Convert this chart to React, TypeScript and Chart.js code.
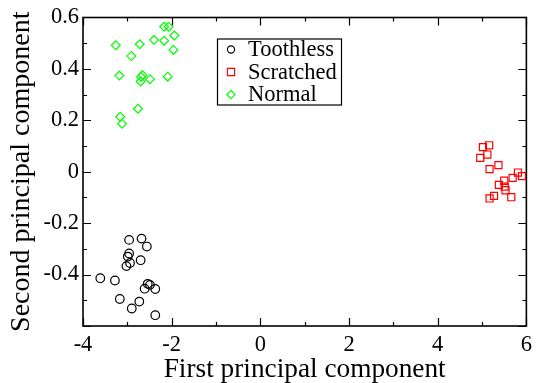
import { useEffect, useRef } from 'react';
import { Chart, registerables } from 'chart.js';

Chart.register(...registerables);

// PCA scores for the three tool conditions
const toothlessX = [-2.96, -2.68, -2.56, -2.96, -2.99, -2.70, -2.94, -3.02, -3.61, -3.28, -2.54, -2.49, -2.61, -2.37, -3.17, -2.73, -2.90, -2.37];
const toothlessY = [-0.265, -0.26, -0.291, -0.318, -0.33, -0.344, -0.355, -0.367, -0.414, -0.423, -0.436, -0.44, -0.455, -0.456, -0.495, -0.505, -0.532, -0.558];

const scratchedX = [5.02, 5.16, 5.12, 4.96, 5.17, 5.37, 5.81, 5.90, 5.69, 5.38, 5.51, 5.53, 5.66, 5.27, 5.17, 5.50];
const scratchedY = [0.096, 0.103, 0.067, 0.054, 0.010, 0.026, -0.003, -0.017, -0.024, -0.051, -0.058, -0.072, -0.099, -0.094, -0.104, -0.035];

const normalX = [-3.26, -2.72, -2.91, -2.40, -2.17, -2.17, -2.07, -1.94, -1.96, -3.18, -2.66, -2.69, -2.70, -2.49, -2.09, -2.76, -3.16, -3.12];
const normalY = [0.492, 0.496, 0.45, 0.513, 0.51, 0.564, 0.564, 0.53, 0.474, 0.374, 0.376, 0.369, 0.351, 0.36, 0.37, 0.245, 0.214, 0.187];

const seriesNames = ['Toothless', 'Scratched', 'Normal'];

const X_MIN = -4;
const X_MAX = 6;
const Y_MIN = -0.6;
const Y_MAX = 0.6;

const SERIF = '"Liberation Serif", "Times New Roman", serif';

const zip = (xs: number[], ys: number[]) => xs.map((x, i) => ({ x, y: ys[i] }));

// Frame with inward major/minor ticks on all four sides
const framePlugin = {
  id: 'frameTicks',
  beforeDatasetsDraw(chart: any) {
    const { ctx, chartArea, scales } = chart;
    const { left, right, top, bottom } = chartArea;
    const xs = scales.x;
    const ys = scales.y;
    ctx.save();
    ctx.strokeStyle = '#000';
    ctx.lineWidth = 1.6;
    ctx.strokeRect(left, top, right - left, bottom - top);
    ctx.lineWidth = 1.2;
    ctx.beginPath();
    for (let i = 0; i <= (X_MAX - X_MIN); i++) {
      const v = X_MIN + i;
      const px = Math.round(xs.getPixelForValue(v)) + 0.5;
      const len = i % 2 === 0 ? 8 : 4;
      ctx.moveTo(px, bottom);
      ctx.lineTo(px, bottom - len);
      ctx.moveTo(px, top);
      ctx.lineTo(px, top + len);
    }
    for (let i = 0; i <= 12; i++) {
      const v = Y_MIN + i * 0.1;
      const py = Math.round(ys.getPixelForValue(v)) + 0.5;
      const len = i % 2 === 0 ? 8 : 4;
      ctx.moveTo(left, py);
      ctx.lineTo(left + len, py);
      ctx.moveTo(right, py);
      ctx.lineTo(right - len, py);
    }
    ctx.stroke();
    ctx.restore();
  },
};

function drawMarker(ctx: CanvasRenderingContext2D, style: string, x: number, y: number) {
  ctx.beginPath();
  if (style === 'circle') {
    ctx.arc(x, y, 3.6, 0, Math.PI * 2);
  } else if (style === 'rect') {
    ctx.rect(x - 3.6, y - 3.6, 7.2, 7.2);
  } else {
    ctx.moveTo(x - 4.2, y);
    ctx.lineTo(x, y - 4.2);
    ctx.lineTo(x + 4.2, y);
    ctx.lineTo(x, y + 4.2);
    ctx.closePath();
  }
  ctx.stroke();
}

// Boxed legend inside the plot area
const legendBoxPlugin = {
  id: 'legendBox',
  afterDatasetsDraw(chart: any) {
    const { ctx, chartArea } = chart;
    const bx = chartArea.left + 134;
    const by = chartArea.top + 21;
    const bw = 124;
    const bh = 66;
    ctx.save();
    ctx.fillStyle = '#fff';
    ctx.fillRect(bx, by, bw, bh);
    ctx.strokeStyle = '#000';
    ctx.lineWidth = 1.2;
    ctx.strokeRect(bx + 0.5, by + 0.5, bw, bh);
    ctx.font = `22.5px ${SERIF}`;
    ctx.textBaseline = 'middle';
    ctx.textAlign = 'left';
    chart.data.datasets.forEach((ds: any, i: number) => {
      const ry = by + 11 + i * 22.5;
      ctx.strokeStyle = ds.borderColor;
      ctx.lineWidth = 1.1;
      drawMarker(ctx, ds.pointStyle, bx + 14, ry);
      ctx.fillStyle = '#000';
      ctx.fillText(ds.label, bx + 31, ry + 1);
    });
    ctx.restore();
  },
};

export default function App() {
  const canvasRef = useRef<HTMLCanvasElement | null>(null);

  useEffect(() => {
    document.body.style.margin = '0';
    const canvas = canvasRef.current;
    if (!canvas) return;
    const chart = new Chart(canvas, {
      type: 'scatter',
      data: {
        datasets: [
          {
            label: seriesNames[0],
            data: zip(toothlessX, toothlessY),
            pointStyle: 'circle',
            pointRadius: 4.3,
            borderColor: '#000000',
            backgroundColor: 'rgba(0,0,0,0)',
            borderWidth: 1.2,
          },
          {
            label: seriesNames[1],
            data: zip(scratchedX, scratchedY),
            pointStyle: 'rect',
            pointRadius: 5,
            borderColor: '#ff0000',
            backgroundColor: 'rgba(0,0,0,0)',
            borderWidth: 1.2,
          },
          {
            label: seriesNames[2],
            data: zip(normalX, normalY),
            pointStyle: 'rectRot',
            pointRadius: 4.4,
            borderColor: '#00ff00',
            backgroundColor: 'rgba(0,0,0,0)',
            borderWidth: 1.2,
          },
        ],
      },
      options: {
        responsive: false,
        animation: false,
        layout: { padding: { top: 14, right: 8, left: 0, bottom: 0 } },
        plugins: {
          legend: { display: false },
          tooltip: { enabled: false },
        },
        scales: {
          x: {
            type: 'linear',
            min: X_MIN,
            max: X_MAX,
            grid: { display: false, drawTicks: false },
            border: { display: false },
            ticks: {
              stepSize: 2,
              padding: 6,
              color: '#000',
              font: { family: SERIF, size: 22.5 },
              maxRotation: 0,
              callback: (v: any) => String(Math.round(Number(v))),
            },
            title: {
              display: true,
              text: 'First principal component',
              color: '#000',
              font: { family: SERIF, size: 27.3, lineHeight: 1 },
              padding: { top: 0, bottom: 0 },
            },
            afterFit: (s: any) => {
              s.height = 57;
            },
          },
          y: {
            type: 'linear',
            min: Y_MIN,
            max: Y_MAX,
            grid: { display: false, drawTicks: false },
            border: { display: false },
            ticks: {
              stepSize: 0.2,
              padding: 4,
              color: '#000',
              font: { family: SERIF, size: 22.5 },
              callback: (v: any) => {
                const r = Math.round(Number(v) * 10) / 10;
                if (r <= Y_MIN + 1e-9) return '';
                return r === 0 ? '0' : r.toFixed(1);
              },
            },
            title: {
              display: true,
              text: 'Second principal component',
              color: '#000',
              font: { family: SERIF, size: 28, lineHeight: 1 },
              padding: { top: 8, bottom: 0 },
            },
            afterFit: (s: any) => {
              s.width = 83;
            },
          },
        },
      },
      plugins: [framePlugin, legendBoxPlugin],
    });
    return () => chart.destroy();
  }, []);

  return <canvas ref={canvasRef} width={538} height={383} style={{ display: 'block' }} />;
}
